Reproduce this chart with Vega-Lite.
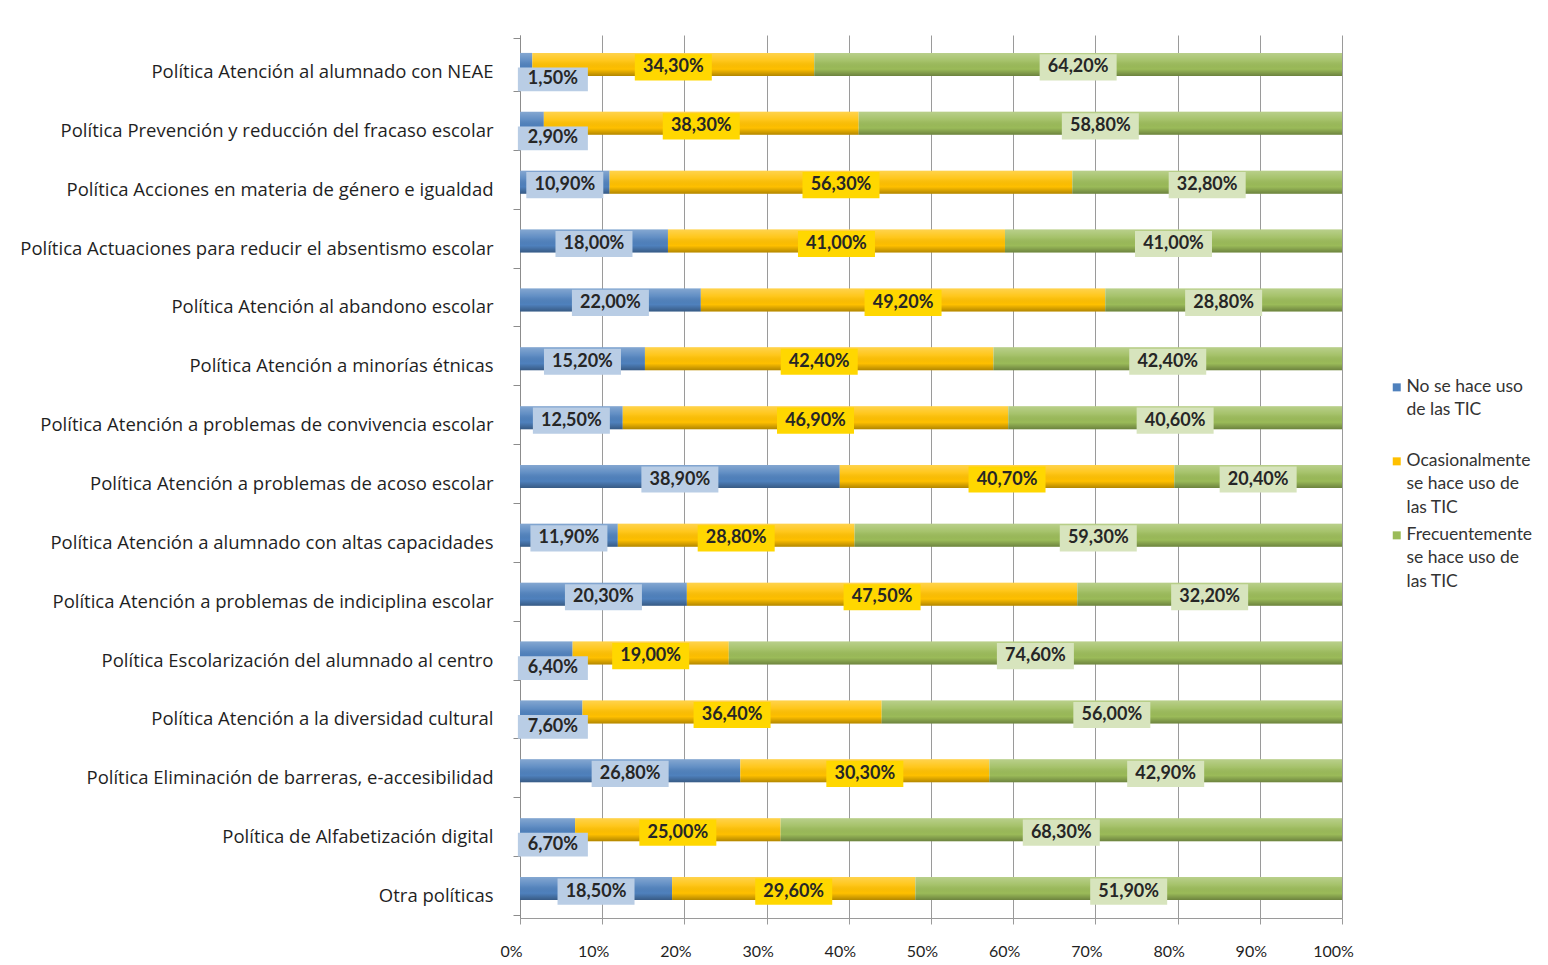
{
  "$schema": "https://vega.github.io/schema/vega-lite/v6.json",
  "width": 822,
  "height": 883,
  "autosize": {"type": "none"},
  "padding": {"left": 520, "top": 35, "right": 206, "bottom": 47},
  "background": "white",
  "config": {
    "locale": {"number": {"decimal": ",", "thousands": ".", "grouping": [3], "currency": ["", " €"]}},
    "view": {"stroke": null},
    "font": "Lato",
    "style": {"guide-label": {"lineHeight": 23.5}}
  },
  "data": {
    "values": [
      {"politica": "Política Atención al alumnado con NEAE", "uso": "No se hace uso de las TIC", "valor": 0.015},
      {"politica": "Política Atención al alumnado con NEAE", "uso": "Ocasionalmente se hace uso de las TIC", "valor": 0.343},
      {"politica": "Política Atención al alumnado con NEAE", "uso": "Frecuentemente se hace uso de las TIC", "valor": 0.642},
      {"politica": "Política Prevención y reducción del fracaso escolar", "uso": "No se hace uso de las TIC", "valor": 0.029},
      {"politica": "Política Prevención y reducción del fracaso escolar", "uso": "Ocasionalmente se hace uso de las TIC", "valor": 0.383},
      {"politica": "Política Prevención y reducción del fracaso escolar", "uso": "Frecuentemente se hace uso de las TIC", "valor": 0.588},
      {"politica": "Política Acciones en materia de género e igualdad", "uso": "No se hace uso de las TIC", "valor": 0.109},
      {"politica": "Política Acciones en materia de género e igualdad", "uso": "Ocasionalmente se hace uso de las TIC", "valor": 0.563},
      {"politica": "Política Acciones en materia de género e igualdad", "uso": "Frecuentemente se hace uso de las TIC", "valor": 0.328},
      {"politica": "Política Actuaciones para reducir el absentismo escolar", "uso": "No se hace uso de las TIC", "valor": 0.18},
      {"politica": "Política Actuaciones para reducir el absentismo escolar", "uso": "Ocasionalmente se hace uso de las TIC", "valor": 0.41},
      {"politica": "Política Actuaciones para reducir el absentismo escolar", "uso": "Frecuentemente se hace uso de las TIC", "valor": 0.41},
      {"politica": "Política Atención al abandono escolar", "uso": "No se hace uso de las TIC", "valor": 0.22},
      {"politica": "Política Atención al abandono escolar", "uso": "Ocasionalmente se hace uso de las TIC", "valor": 0.492},
      {"politica": "Política Atención al abandono escolar", "uso": "Frecuentemente se hace uso de las TIC", "valor": 0.288},
      {"politica": "Política Atención a minorías étnicas", "uso": "No se hace uso de las TIC", "valor": 0.152},
      {"politica": "Política Atención a minorías étnicas", "uso": "Ocasionalmente se hace uso de las TIC", "valor": 0.424},
      {"politica": "Política Atención a minorías étnicas", "uso": "Frecuentemente se hace uso de las TIC", "valor": 0.424},
      {"politica": "Política Atención a problemas de convivencia escolar", "uso": "No se hace uso de las TIC", "valor": 0.125},
      {"politica": "Política Atención a problemas de convivencia escolar", "uso": "Ocasionalmente se hace uso de las TIC", "valor": 0.469},
      {"politica": "Política Atención a problemas de convivencia escolar", "uso": "Frecuentemente se hace uso de las TIC", "valor": 0.406},
      {"politica": "Política Atención a problemas de acoso escolar", "uso": "No se hace uso de las TIC", "valor": 0.389},
      {"politica": "Política Atención a problemas de acoso escolar", "uso": "Ocasionalmente se hace uso de las TIC", "valor": 0.407},
      {"politica": "Política Atención a problemas de acoso escolar", "uso": "Frecuentemente se hace uso de las TIC", "valor": 0.204},
      {"politica": "Política Atención a alumnado con altas capacidades", "uso": "No se hace uso de las TIC", "valor": 0.119},
      {"politica": "Política Atención a alumnado con altas capacidades", "uso": "Ocasionalmente se hace uso de las TIC", "valor": 0.288},
      {"politica": "Política Atención a alumnado con altas capacidades", "uso": "Frecuentemente se hace uso de las TIC", "valor": 0.593},
      {"politica": "Política Atención a problemas de indiciplina escolar", "uso": "No se hace uso de las TIC", "valor": 0.203},
      {"politica": "Política Atención a problemas de indiciplina escolar", "uso": "Ocasionalmente se hace uso de las TIC", "valor": 0.475},
      {"politica": "Política Atención a problemas de indiciplina escolar", "uso": "Frecuentemente se hace uso de las TIC", "valor": 0.322},
      {"politica": "Política Escolarización del alumnado al centro", "uso": "No se hace uso de las TIC", "valor": 0.064},
      {"politica": "Política Escolarización del alumnado al centro", "uso": "Ocasionalmente se hace uso de las TIC", "valor": 0.19},
      {"politica": "Política Escolarización del alumnado al centro", "uso": "Frecuentemente se hace uso de las TIC", "valor": 0.746},
      {"politica": "Política Atención a la diversidad cultural", "uso": "No se hace uso de las TIC", "valor": 0.076},
      {"politica": "Política Atención a la diversidad cultural", "uso": "Ocasionalmente se hace uso de las TIC", "valor": 0.364},
      {"politica": "Política Atención a la diversidad cultural", "uso": "Frecuentemente se hace uso de las TIC", "valor": 0.56},
      {"politica": "Política Eliminación de barreras, e-accesibilidad", "uso": "No se hace uso de las TIC", "valor": 0.268},
      {"politica": "Política Eliminación de barreras, e-accesibilidad", "uso": "Ocasionalmente se hace uso de las TIC", "valor": 0.303},
      {"politica": "Política Eliminación de barreras, e-accesibilidad", "uso": "Frecuentemente se hace uso de las TIC", "valor": 0.429},
      {"politica": "Política de Alfabetización digital", "uso": "No se hace uso de las TIC", "valor": 0.067},
      {"politica": "Política de Alfabetización digital", "uso": "Ocasionalmente se hace uso de las TIC", "valor": 0.25},
      {"politica": "Política de Alfabetización digital", "uso": "Frecuentemente se hace uso de las TIC", "valor": 0.683},
      {"politica": "Otra políticas", "uso": "No se hace uso de las TIC", "valor": 0.185},
      {"politica": "Otra políticas", "uso": "Ocasionalmente se hace uso de las TIC", "valor": 0.296},
      {"politica": "Otra políticas", "uso": "Frecuentemente se hace uso de las TIC", "valor": 0.519}
    ]
  },
  "transform": [
    {"calculate": "indexof(['No se hace uso de las TIC', 'Ocasionalmente se hace uso de las TIC', 'Frecuentemente se hace uso de las TIC'], datum.uso)", "as": "orden"},
    {"stack": "valor", "groupby": ["politica"], "sort": [{"field": "orden", "order": "ascending"}], "as": ["v0", "v1"]},
    {"calculate": "max((datum.v0 + datum.v1) / 2, 0.04)", "as": "centro"}
  ],
  "encoding": {
    "y": {
      "field": "politica",
      "type": "nominal",
      "sort": null,
      "axis": {
        "title": null,
        "domainColor": "#8c8c8c",
        "tickColor": "#8c8c8c",
        "tickBand": "extent",
        "tickSize": 7,
        "labelPadding": 20,
        "labelFont": "Open Sans",
        "labelFontSize": 18.5,
        "labelColor": "#1f1f1f",
        "labelLimit": 0,
        "labelOffset": 7
      }
    }
  },
  "layer": [
    {
      "mark": {"type": "bar", "size": 23},
      "encoding": {
        "x": {
          "field": "v0",
          "type": "quantitative",
          "scale": {"domain": [0, 1], "nice": false},
          "axis": {
            "title": null,
            "format": ".0%",
            "values": [0, 0.1, 0.2, 0.3, 0.4, 0.5, 0.6, 0.7, 0.8, 0.9, 1],
            "grid": true,
            "gridColor": "#9a9a9a",
            "domainColor": "#9a9a9a",
            "tickColor": "#9a9a9a",
            "tickSize": 6,
            "labelPadding": 19,
            "labelFontSize": 16,
            "labelOffset": -9,
            "labelColor": "#1f1f1f",
            "labelFlush": false
          }
        },
        "x2": {"field": "v1"},
        "color": {
          "field": "uso",
          "type": "nominal",
          "scale": {
            "domain": ["No se hace uso de las TIC", "Ocasionalmente se hace uso de las TIC", "Frecuentemente se hace uso de las TIC"],
            "range": ["#4f81bd", "#ffc000", "#9bbb59"]
          },
          "legend": {
            "title": null,
            "orient": "none",
            "legendX": 868,
            "legendY": 334,
            "symbolType": "M-1,1.4L1,1.4L1,3.4L-1,3.4Z",
            "symbolSize": 64,
            "symbolStrokeWidth": 0,
            "labelFontSize": 17.5,
            "labelColor": "#333333",
            "labelLimit": 0,
            "labelBaseline": "top",
            "labelOffset": 1,
            "rowPadding": 0,
            "labelExpr": "datum.label == 'No se hace uso de las TIC' ? ['No se hace uso', 'de las TIC', ''] : datum.label == 'Ocasionalmente se hace uso de las TIC' ? ['Ocasionalmente', 'se hace uso de', 'las TIC'] : ['Frecuentemente', 'se hace uso de', 'las TIC']"
          }
        }
      }
    },
    {
      "mark": {
        "type": "bar",
        "size": 23,
        "fill": {
          "gradient": "linear",
          "x1": 0, "y1": 0, "x2": 0, "y2": 1,
          "stops": [
            {"offset": 0, "color": "rgba(255,255,255,0.30)"},
            {"offset": 0.35, "color": "rgba(255,255,255,0.10)"},
            {"offset": 0.7, "color": "rgba(0,0,0,0)"},
            {"offset": 1, "color": "rgba(0,0,0,0.30)"}
          ]
        }
      },
      "encoding": {
        "x": {"field": "v0", "type": "quantitative"},
        "x2": {"field": "v1"}
      }
    },
    {
      "transform": [{"filter": "datum.valor >= 0.08"}],
      "mark": {"type": "point", "shape": "M-1,-0.34L1,-0.34L1,0.34L-1,0.34Z", "size": 5929, "filled": true, "opacity": 1, "strokeWidth": 0, "yOffset": 3},
      "encoding": {
        "x": {"field": "centro", "type": "quantitative"},
        "color": {
          "field": "uso",
          "type": "nominal",
          "scale": {
            "domain": ["No se hace uso de las TIC", "Ocasionalmente se hace uso de las TIC", "Frecuentemente se hace uso de las TIC"],
            "range": ["#b9cde5", "#ffd700", "#d7e4bd"]
          },
          "legend": null
        }
      }
    },
    {
      "transform": [{"filter": "datum.valor < 0.08"}],
      "mark": {"type": "point", "shape": "M-1,-0.34L1,-0.34L1,0.34L-1,0.34Z", "size": 4900, "filled": true, "opacity": 1, "strokeWidth": 0, "yOffset": 15},
      "encoding": {
        "x": {"field": "centro", "type": "quantitative"},
        "color": {
          "field": "uso",
          "type": "nominal",
          "scale": {
            "domain": ["No se hace uso de las TIC", "Ocasionalmente se hace uso de las TIC", "Frecuentemente se hace uso de las TIC"],
            "range": ["#b9cde5", "#ffd700", "#d7e4bd"]
          },
          "legend": null
        }
      }
    },
    {
      "transform": [{"filter": "datum.valor >= 0.08"}],
      "mark": {"type": "text", "fontWeight": "bold", "fontSize": 18, "color": "#262626", "dy": 3},
      "encoding": {
        "x": {"field": "centro", "type": "quantitative"},
        "text": {"field": "valor", "type": "quantitative", "format": ".2%"}
      }
    },
    {
      "transform": [{"filter": "datum.valor < 0.08"}],
      "mark": {"type": "text", "fontWeight": "bold", "fontSize": 18, "color": "#262626", "dy": 15},
      "encoding": {
        "x": {"field": "centro", "type": "quantitative"},
        "text": {"field": "valor", "type": "quantitative", "format": ".2%"}
      }
    }
  ],
  "resolve": {"scale": {"color": "independent"}}
}
